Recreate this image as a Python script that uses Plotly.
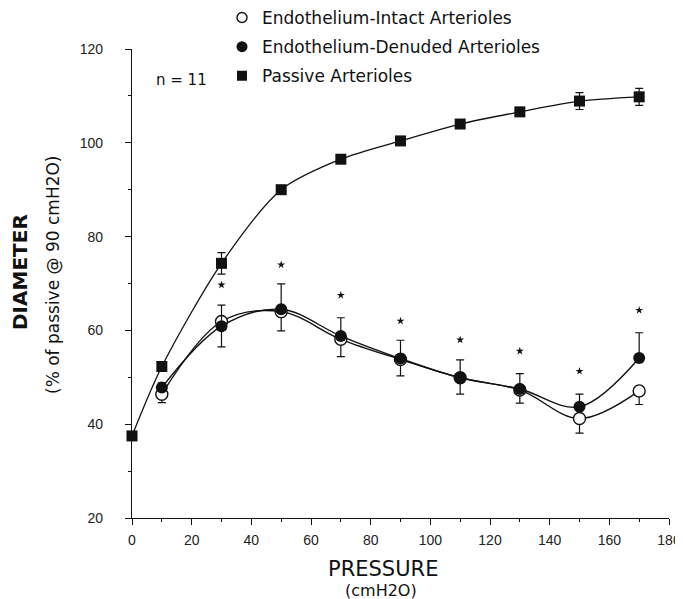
import plotly.graph_objects as go

# ---------------- data ----------------
pressure_passive = [0, 10, 30, 50, 70, 90, 110, 130, 150, 170]
passive = [37.5, 52.3, 74.3, 90.0, 96.5, 100.4, 104.0, 106.6, 108.9, 109.8]
passive_se = [0.8, 0.9, 2.3, 0.6, 0.6, 0.6, 0.6, 0.7, 1.8, 1.8]

pressure = [10, 30, 50, 70, 90, 110, 130, 150, 170]
intact = [46.4, 61.9, 64.0, 58.1, 53.8, 49.9, 47.3, 41.2, 47.1]
intact_se = [1.8, 5.4, 4.1, 3.7, 3.5, 3.5, 2.8, 3.1, 2.9]
denuded = [47.8, 60.9, 64.5, 58.8, 54.0, 49.9, 47.5, 43.7, 54.1]
denuded_se = [1.0, 4.5, 5.4, 3.9, 3.9, 3.8, 3.3, 2.7, 5.4]

star_x = [30, 50, 70, 90, 110, 130, 150, 170]
star_y = [69.7, 74.0, 67.5, 62.0, 58.0, 55.6, 51.3, 64.3]

series_names = ["Endothelium-Intact Arterioles",
                "Endothelium-Denuded Arterioles",
                "Passive Arterioles"]

x_ticks = [0, 20, 40, 60, 80, 100, 120, 140, 160, 180]
y_ticks = [20, 40, 60, 80, 100, 120]

FONT = "DejaVu Sans, Verdana, sans-serif"
TICKFONT = "Liberation Sans, Arial, Helvetica, sans-serif"
INK = "#111111"

fig = go.Figure()

# Passive arterioles
fig.add_trace(go.Scatter(
    x=pressure_passive, y=passive, mode="lines+markers",
    line=dict(color=INK, width=1.3, shape="spline", smoothing=0.8),
    marker=dict(symbol="square", size=11, color=INK),
    error_y=dict(type="data", array=passive_se, symmetric=True,
                 color=INK, thickness=1.2, width=4),
    showlegend=False, cliponaxis=False))

# Intact (open circles) - downward error bars
fig.add_trace(go.Scatter(
    x=pressure, y=intact, mode="lines+markers",
    line=dict(color=INK, width=1.4, shape="spline", smoothing=1.0),
    marker=dict(symbol="circle", size=12, color="white",
                line=dict(color=INK, width=1.4)),
    error_y=dict(type="data", symmetric=False,
                 array=[0] * len(intact_se), arrayminus=intact_se,
                 color=INK, thickness=1.2, width=4),
    showlegend=False, cliponaxis=False))

# Denuded (filled circles) - upward error bars
fig.add_trace(go.Scatter(
    x=pressure, y=denuded, mode="lines+markers",
    line=dict(color=INK, width=1.4, shape="spline", smoothing=1.0),
    marker=dict(symbol="circle", size=12, color=INK),
    error_y=dict(type="data", symmetric=False,
                 array=denuded_se, arrayminus=[0] * len(denuded_se),
                 color=INK, thickness=1.2, width=4),
    showlegend=False, cliponaxis=False))

# significance stars
fig.add_trace(go.Scatter(
    x=star_x, y=star_y, mode="markers",
    marker=dict(symbol="star", size=6, color=INK),
    showlegend=False, hoverinfo="skip"))

# legend-only entries
leg_markers = [dict(symbol="circle-open", size=10, color=INK, line=dict(width=1.4)),
               dict(symbol="circle", size=11, color=INK),
               dict(symbol="square", size=10, color=INK)]
for i, (nm, mk) in enumerate(zip(series_names, leg_markers)):
    fig.add_trace(go.Scatter(x=[None], y=[None], mode="markers", name=nm,
                             marker=mk, legendgroup=f"g{i}", showlegend=True))

# The page body has an 8px margin; figure is sized so the plot lands where the reference has it.
W, H = 675, 591
ml, mr, mt, mb = 124, 14, 41, 81
pw, ph = W - ml - mr, H - mt - mb
OFF = 8


def px(xp):  # reference-picture pixel -> paper x
    return (xp - OFF - ml) / pw


def py(yp):  # reference-picture pixel -> paper y
    return (H - mb - (yp - OFF)) / ph


fig.update_layout(
    template="none",
    width=W, height=H, autosize=False,
    margin=dict(l=ml, r=mr, t=mt, b=mb, autoexpand=False),
    paper_bgcolor="white", plot_bgcolor="white",
    font=dict(family=FONT, color=INK, size=14),
    legend=dict(x=px(222), y=py(0), xanchor="left", yanchor="top",
                bgcolor="rgba(0,0,0,0)", font=dict(size=17, family=FONT, color=INK),
                tracegroupgap=4, itemclick=False),
    xaxis=dict(range=[0, 180], tickvals=x_ticks, ticks="outside", ticklen=6,
               tickwidth=1.2, tickcolor=INK, showline=True, linecolor=INK,
               linewidth=1.3, showgrid=False, zeroline=False, automargin=False,
               ticklabelstandoff=3, ticklabeloverflow="allow",
               minor=dict(dtick=10, ticks="outside", ticklen=3, tickcolor=INK,
                          showgrid=False),
               tickfont=dict(size=14, family=TICKFONT, color="#222")),
    yaxis=dict(range=[20, 120], tickvals=y_ticks,
               ticks="outside", ticklen=6, tickwidth=1.2, tickcolor=INK,
               showline=True, linecolor=INK, linewidth=1.3, showgrid=False,
               zeroline=False, automargin=False, ticklabelstandoff=19,
               ticklabeloverflow="allow",
               minor=dict(dtick=10, ticks="outside", ticklen=3, tickcolor=INK,
                          showgrid=False),
               tickfont=dict(size=14, family=TICKFONT, color="#222")),
)

ann = [
    dict(text="n = 11", x=px(181), y=py(80), xanchor="center", font=dict(size=15)),
    dict(text="PRESSURE", x=px(383), y=py(569), xanchor="center", font=dict(size=21)),
    dict(text="(cmH2O)", x=px(381), y=py(590), xanchor="center", font=dict(size=16)),
    dict(text="<b>DIAMETER</b>", x=px(20), y=py(272), textangle=-90,
         xanchor="center", font=dict(size=20)),
    dict(text="(% of passive @ 90 cmH2O)", x=px(53), y=py(275), textangle=-90,
         xanchor="center", font=dict(size=17)),
]
for a in ann:
    a.update(xref="paper", yref="paper", showarrow=False, yanchor="middle")
    a.setdefault("font", {})
    a["font"].setdefault("family", FONT)
    a["font"].setdefault("color", INK)
    fig.add_annotation(**a)

fig.write_html("out.html")
